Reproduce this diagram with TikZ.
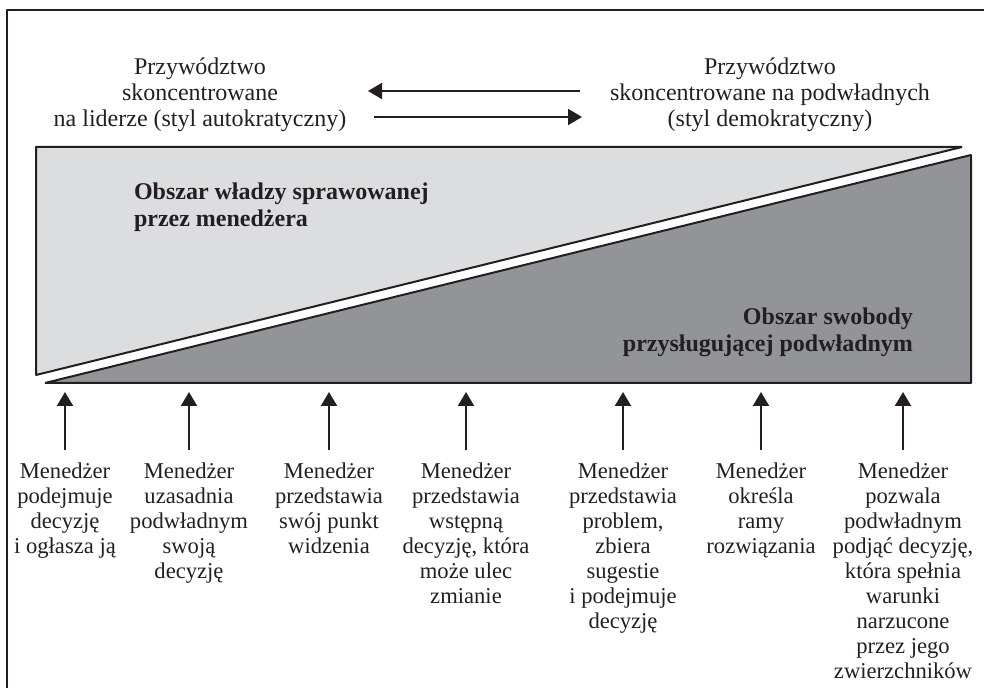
\documentclass[tikz,border=0pt]{standalone}
\usepackage{fontspec}
\setmainfont{Liberation Serif}
\usetikzlibrary{positioning, arrows.meta}

\definecolor{ink}{HTML}{231F20}
\definecolor{lightarea}{HTML}{DCDDDF}
\definecolor{darkarea}{HTML}{939498}

\begin{document}
\begin{tikzpicture}[
    x=0.5pt, y=-0.5pt,
    >={Triangle[length=7pt,width=8pt]},
    line width=1pt,
    draw=ink,
    line join=bevel,
    desc/.style={align=center, inner sep=0pt, text=ink,
        font=\fontsize{11.3}{12.5}\selectfont},
    style/.style={desc, font=\fontsize{12}{13}\selectfont},
    area/.style={inner sep=0pt, text=ink,
        font=\bfseries\fontsize{12}{13.5}\selectfont}
]
\useasboundingbox (0,0) rectangle (984,688);

% Frame
\draw (7,688) -- (7,10) -- (984,10);

% Areas
\draw[fill=lightarea] (36,147) -- (962,147) -- (36,375) -- cycle;
\draw[fill=darkarea] (45,383) -- (971,155) -- (971,383) -- cycle;

\node (power) [area, align=left, anchor=north west] at (133,182)
    {Obszar władzy sprawowanej\\przez menedżera};
\node (freedom) [area, align=right, anchor=north east] at (914,307)
    {Obszar swobody\\przysługującej podwładnym};

% Leadership styles
\node (leader) [style] at (200,95) {Przywództwo\\skoncentrowane\\na liderze (styl autokratyczny)};
\node (team)   [style] at (770,95) {Przywództwo\\skoncentrowane na podwładnych\\(styl demokratyczny)};

\coordinate (toL)   at (368,91);
\coordinate (fromR) at (580,91);
\coordinate (fromL) at (374,117);
\coordinate (toR)   at (582,117);
\draw[->] (fromR) -- (toL);
\draw[->] (fromL) -- (toR);

% Manager behaviours
\foreach \x/\txt [count=\i] in {
    65/{Menedżer\\podejmuje\\decyzję\\i ogłasza ją},
    189/{Menedżer\\uzasadnia\\podwładnym\\swoją\\decyzję},
    329/{Menedżer\\przedstawia\\swój punkt\\widzenia},
    466/{Menedżer\\przedstawia\\wstępną\\decyzję, która\\może ulec\\zmianie},
    623/{Menedżer\\przedstawia\\problem,\\zbiera\\sugestie\\i podejmuje\\decyzję},
    761/{Menedżer\\określa\\ramy\\rozwiązania},
    903/{Menedżer\\pozwala\\podwładnym\\podjąć decyzję,\\która spełnia\\warunki\\narzucone\\przez jego\\zwierzchników}}
{
    \node (mgr\i) [desc, anchor=north] at (\x,462) {\txt};
    \coordinate (tail\i) at (\x,450);
    \coordinate (tip\i)  at (\x,392);
    \draw[->] (tail\i) -- (tip\i);
}

\end{tikzpicture}
\end{document}
